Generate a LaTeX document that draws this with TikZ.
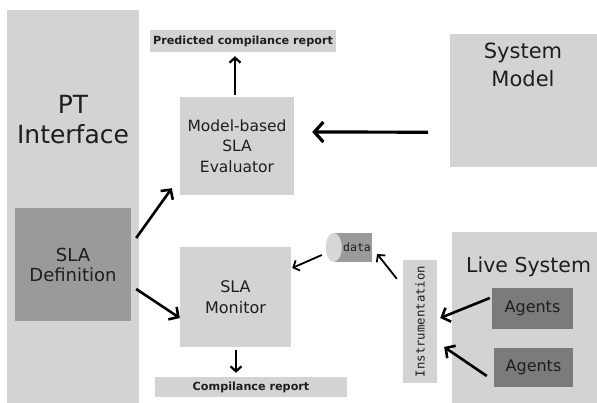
\documentclass[tikz,border=0pt]{standalone}
\usepackage{fontspec}
\setmainfont{DejaVu Sans}
\newfontfamily\monof{DejaVu Sans Mono}
\usetikzlibrary{arrows.meta,calc}
\definecolor{boxlight}{HTML}{D3D3D3}
\definecolor{boxmid}{HTML}{9A9A9A}
\definecolor{boxdark}{HTML}{7B7B7B}
\definecolor{txt}{HTML}{1E1E1E}
\begin{document}
\begin{tikzpicture}[x=1pt,y=-1pt,
  box/.style={draw=none,fill=boxlight,inner sep=0pt,text=txt,align=center},
  midbox/.style={box,fill=boxmid},
  darkbox/.style={box,fill=boxdark},
  arr/.style={line width=2.6pt,-{Straight Barb[length=7pt,width=15pt]}},
  bigarr/.style={line width=3.2pt,-{Straight Barb[length=9pt,width=20pt]}},
  smallarr/.style={line width=1.8pt,-{Straight Barb[length=5pt,width=11pt]}},
  outarr/.style={line width=2.2pt,-{Straight Barb[length=5pt,width=11pt]}},
  lbl/.style={inner sep=0pt,text=txt,align=center}]
\useasboundingbox[fill=white] (0,0) rectangle (597,402);
% PT Interface
\node[box,minimum width=132pt,minimum height=400pt,anchor=north west] (pt) at (7,10) {};
\node[lbl,font=\fontsize{25}{30}\selectfont] (pttext) at (73,120) {PT\\Interface};
\node[midbox,minimum width=116pt,minimum height=113pt,font=\fontsize{18}{20}\selectfont] (sladef) at (73,264.5) {SLA\\Definition};
% outputs
\node[box,minimum width=186pt,minimum height=22pt,font=\bfseries\fontsize{11.2}{12}\selectfont] (pred) at (243,41) {Predicted compilance report};
\node[box,minimum width=114pt,minimum height=98pt,font=\fontsize{15.5}{20.5}\selectfont] (eval) at (237,146) {Model-based\\SLA\\Evaluator};
\node[box,minimum width=111pt,minimum height=100pt,font=\fontsize{16}{21}\selectfont] (mon) at (235.5,297) {SLA\\Monitor};
\node[box,minimum width=192pt,minimum height=20pt,font=\bfseries\fontsize{11.2}{12}\selectfont] (comp) at (251,387) {Compilance report};
% System Model
\node[box,minimum width=150pt,minimum height=133pt,anchor=north west] (sys) at (450,34) {};
\node[lbl,font=\fontsize{21}{28}\selectfont,anchor=north] (systext) at (523,43) {System\\Model};
% Live system
\node[box,minimum width=150pt,minimum height=175pt,anchor=north west] (live) at (452,232) {};
\node[lbl,font=\fontsize{20.5}{24}\selectfont,anchor=base west] (livetext) at (466,272) {Live System};
\node[darkbox,minimum width=81pt,minimum height=41pt,font=\fontsize{16}{20}\selectfont] (ag1) at (532.5,308.5) {Agents};
\node[darkbox,minimum width=79pt,minimum height=39pt,font=\fontsize{16}{20}\selectfont] (ag2) at (533.5,367.5) {Agents};
% Instrumentation
\node[box,minimum width=34pt,minimum height=123pt] (instr) at (420,321.5) {};
\node[lbl,rotate=90,font=\monof\fontsize{12.3}{14}\selectfont] (instrtext) at (420,321.5) {Instrumentation};
% data cylinder
\node[box,fill=boxmid,minimum width=38pt,minimum height=29pt,font=\monof\fontsize{11.5}{12}\selectfont] (data) at (353,247.5) {\hspace*{8pt}data};
\fill[boxlight!90!white] (data.west) ellipse [x radius=8pt,y radius=14.5pt];
% arrows
\draw[outarr] ($(eval.north)+(-2,-2)$) -- ($(pred.south)+(-8,4)$);
\draw[bigarr] ($(sys.west)+(-22,31.5)$) -- ($(eval.east)+(18,-14)$);
\draw[arr] ($(sladef.east)+(5,-26.5)$) -- ($(eval.south west)+(-8,-7)$);
\draw[arr] ($(sladef.east)+(5,24.5)$) -- ($(mon.west)+(0,21)$);
\draw[outarr] ($(mon.south)+(0.5,3)$) -- ($(comp.north)+(-15,-4)$);
\draw[smallarr] ($(data.west)+(-12,7.5)$) -- ($(mon.east)+(1,-29)$);
\draw[smallarr] ($(instr.north west)+(-6,19)$) -- ($(data.east)+(5,6.5)$);
\draw[arr] ($(ag1.west)+(-2,-10.5)$) -- ($(instr.east)+(3,-3.5)$);
\draw[arr] ($(ag2.west)+(-7,8.5)$) -- ($(instr.east)+(7,25.5)$);
\end{tikzpicture}
\end{document}
